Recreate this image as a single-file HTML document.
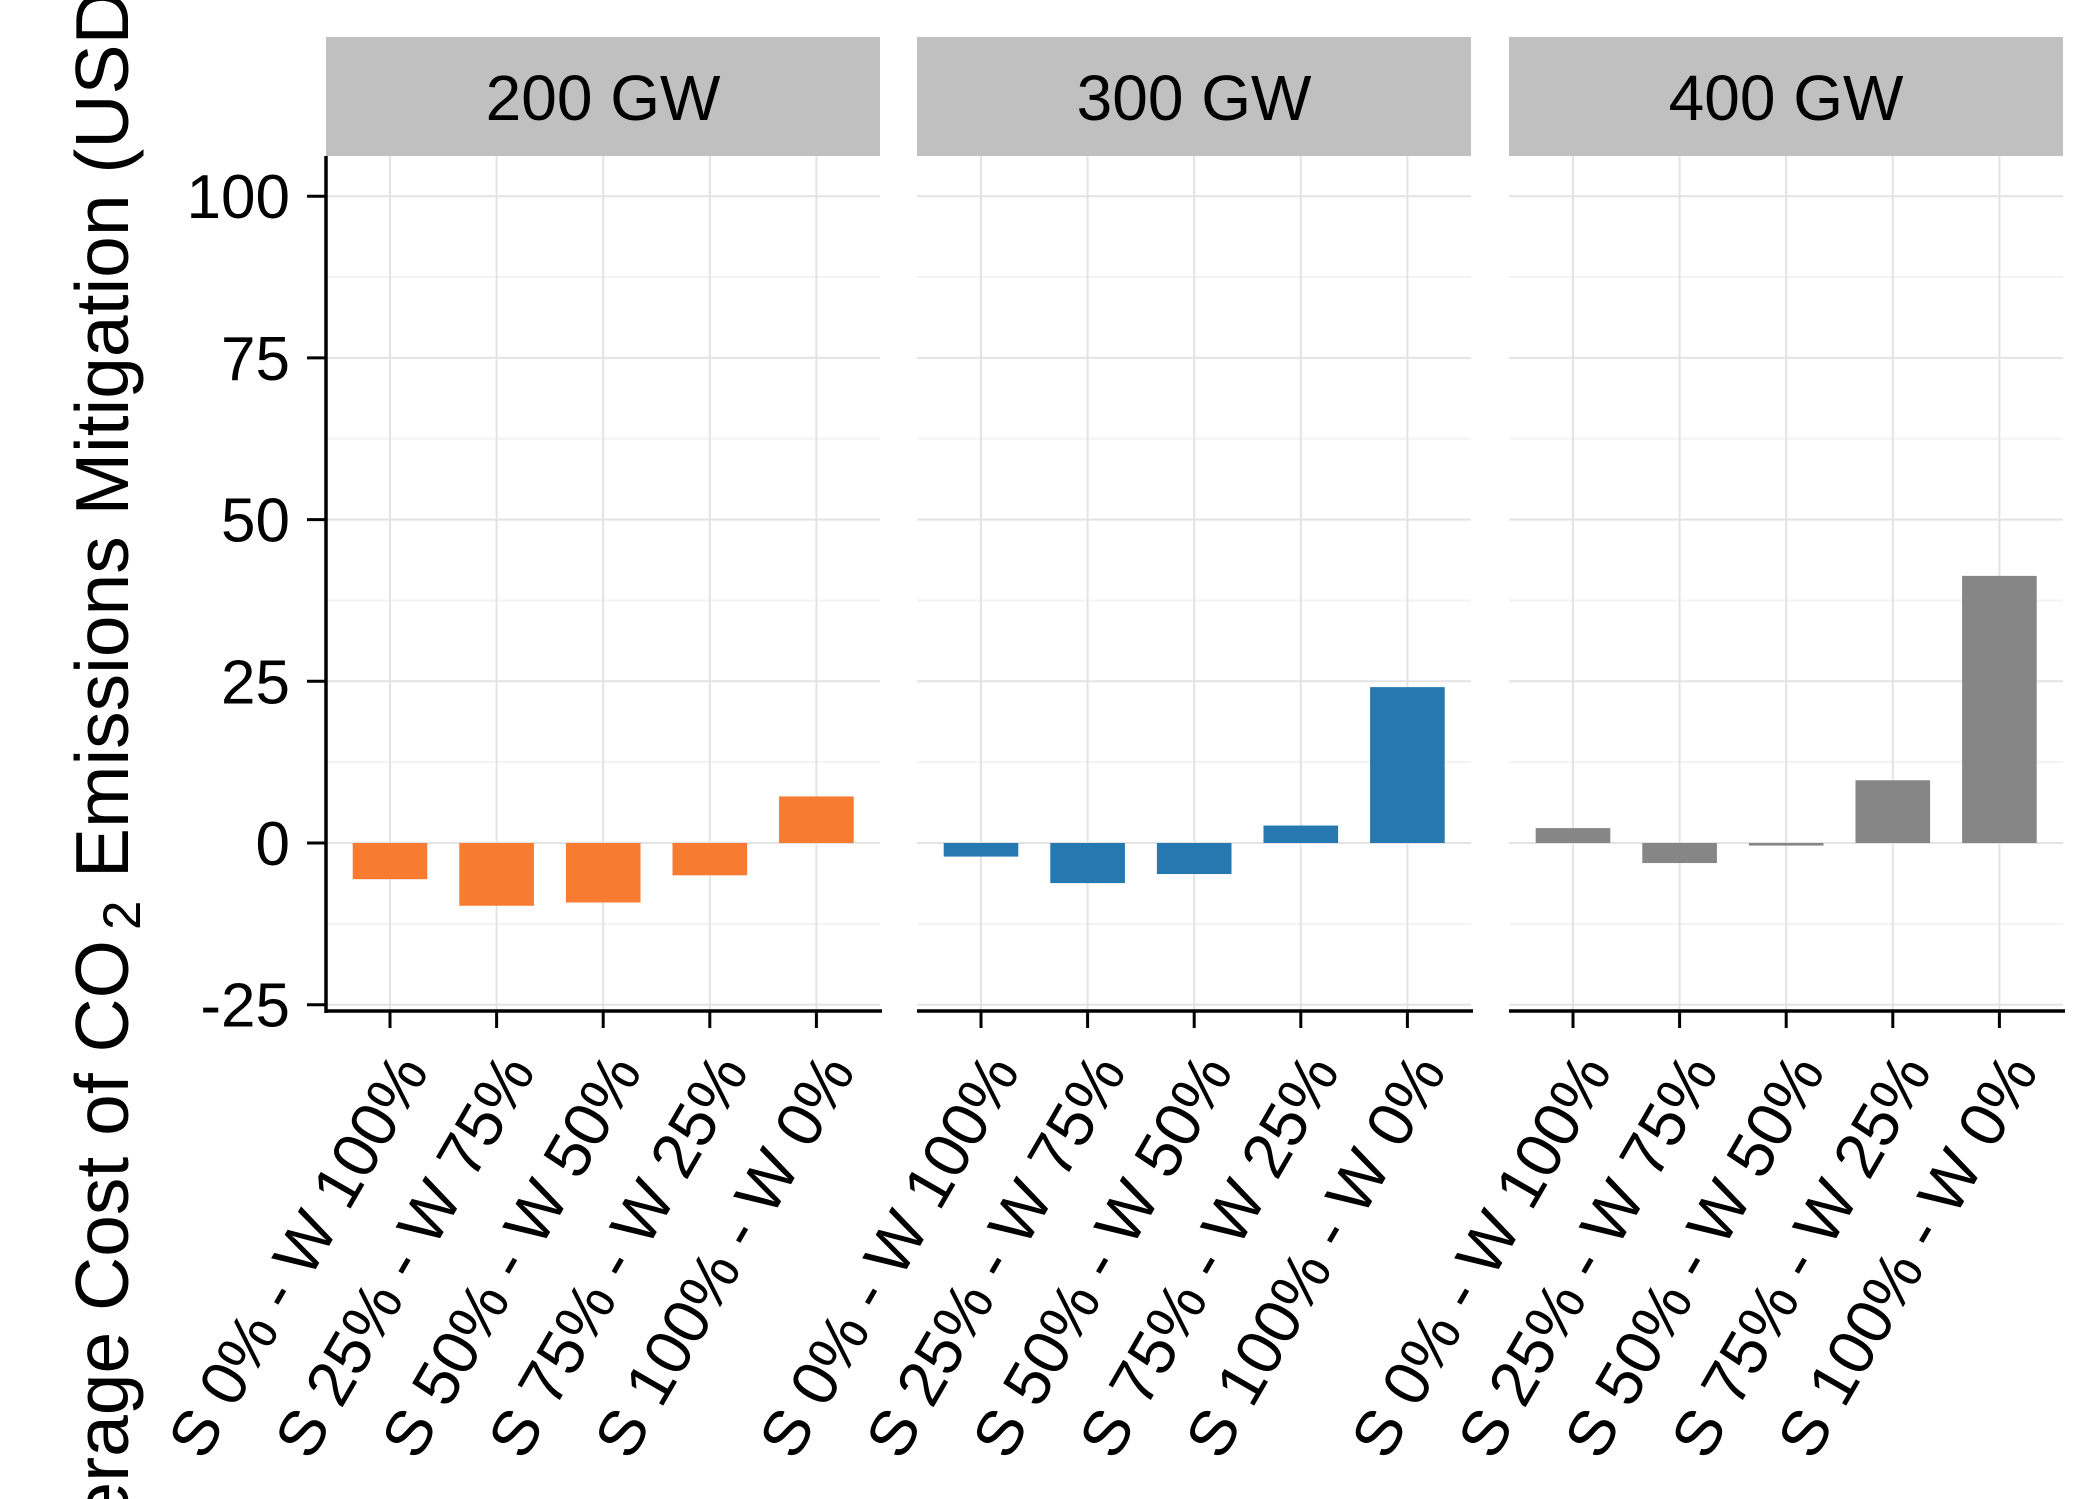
<!DOCTYPE html>
<html><head><meta charset="utf-8"><style>
html,body{margin:0;padding:0;background:#fff;overflow:hidden;}
svg{display:block;font-family:"Liberation Sans",Arial,sans-serif;}
</style></head><body>
<svg id="chart" width="2099" height="1499" viewBox="0 0 2099 1499">
<g id="title">
 <text transform="translate(128,940) rotate(-90)" text-anchor="end" font-size="75" fill="#000">Average Cost of CO</text>
 <text transform="translate(140,930) rotate(-90)" text-anchor="start" font-size="53" fill="#000">2</text>
 <text transform="translate(128,878) rotate(-90)" text-anchor="start" font-size="75" fill="#000">Emissions Mitigation (USD/tCO<tspan font-size="53" dy="14">2</tspan><tspan dy="-14">)</tspan></text>
</g>
</svg>
<script>
const panels = ["200 GW","300 GW","400 GW"];
const categories = ["S 0% - W 100%","S 25% - W 75%","S 50% - W 50%","S 75% - W 25%","S 100% - W 0%"];
const values200 = [-5.6, -9.7, -9.2, -5.0, 7.2];
const values300 = [-2.1, -6.2, -4.8, 2.7, 24.1];
const values400 = [2.3, -3.1, -0.4, 9.7, 41.3];
const yTicks = [-25, 0, 25, 50, 75, 100];
const yTickLabels = ["-25","0","25","50","75","100"];
const colors = ["#F77B31","#2678B0","#868686"];
const allValues = [values200, values300, values400];

const NS = "http://www.w3.org/2000/svg";
const svg = document.getElementById('chart');
function mk(tag, attrs, parent){
  const e = document.createElementNS(NS, tag);
  for (const k in attrs) e.setAttribute(k, attrs[k]);
  (parent||svg).appendChild(e); return e;
}
const panelLeft = [326, 917, 1509];
const panelW = 554;
const plotTop = 156, plotBottom = 1010;
function yScale(v){ return 843 - v * (161.7/25); }
function xScale(p, i){ return panelLeft[p] + 64 + i * 106.6; }
const bandW = 106.6 * 0.7;

panels.forEach((name, p) => {
  const g = mk('g', {});
  
  
  const L = panelLeft[p], R = L + panelW;
  const strip = mk('rect', {x:L, y:37, width:panelW, height:119, fill:'#c0c0c0'}, g);
  
  
  const st = mk('text', {x:L+panelW/2, y:120, 'text-anchor':'middle', 'font-size':'64', fill:'#000'}, g);
  st.textContent = name;
  
  
  for (let k = 0; k < yTicks.length - 1; k++) {
    const v = (yTicks[k] + yTicks[k+1]) / 2;
    const ml = mk('line', {x1:L, x2:R, y1:yScale(v), y2:yScale(v), stroke:'#f3f3f3', 'stroke-width':2}, g);
    
    
  }
  yTicks.forEach(v => {
    const gl = mk('line', {x1:L, x2:R, y1:yScale(v), y2:yScale(v), stroke:'#e3e3e3', 'stroke-width':2}, g);
    
    
  });
  categories.forEach((c, i) => {
    const x = xScale(p, i);
    const vl = mk('line', {x1:x, x2:x, y1:plotTop, y2:plotBottom, stroke:'#e3e3e3', 'stroke-width':2}, g);
    
    
  });
  allValues[p].forEach((v, i) => {
    const x = xScale(p, i);
    const y0 = yScale(0), y1 = yScale(v);
    const b = mk('rect', {x:x - bandW/2, y:Math.min(y0,y1), width:bandW, height:Math.max(Math.abs(y1-y0),1.5), fill:colors[p]}, g);
    
    
  });
  const ax = mk('line', {x1:L, x2:R+2, y1:plotBottom+1, y2:plotBottom+1, stroke:'#000', 'stroke-width':3.5}, g);
  
  
  categories.forEach((c, i) => {
    const x = xScale(p, i);
    const t = mk('line', {x1:x, x2:x, y1:plotBottom, y2:1028, stroke:'#000', 'stroke-width':3}, g);
    
    
    const lb = mk('text', {transform:'translate(' + (x+40) + ',1071) rotate(-60)', 'text-anchor':'end', 'font-size':'64', fill:'#000'}, g);
    lb.textContent = c;
    
    
  });
});
const ya = mk('line', {x1:326, x2:326, y1:plotTop, y2:plotBottom+3, stroke:'#000', 'stroke-width':3.5});


yTicks.forEach((v, k) => {
  const t = mk('line', {x1:307, x2:326, y1:yScale(v), y2:yScale(v), stroke:'#000', 'stroke-width':3});
  
  
  const lb = mk('text', {x:290, y:yScale(v)+22, 'text-anchor':'end', 'font-size':'62', fill:'#000'});
  lb.textContent = yTickLabels[k];
  
  
});
</script>
</body></html>
